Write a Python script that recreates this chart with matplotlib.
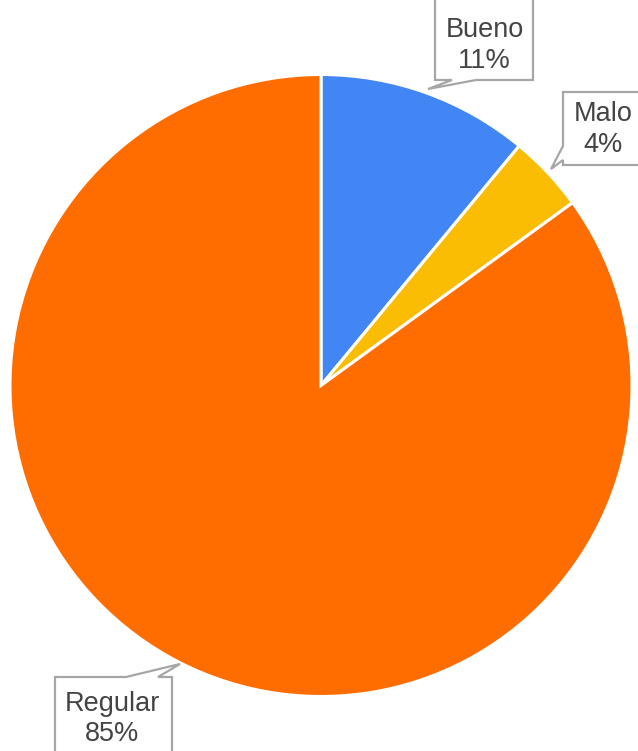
import matplotlib
matplotlib.use("Agg")
import matplotlib.pyplot as plt
from matplotlib.patches import Polygon

labels = ["Bueno", "Malo", "Regular"]
shares = [11, 4, 85]
colors = ["#4285F4", "#FBBC04", "#FF6D01"]

W, H = 638, 751
fig = plt.figure(figsize=(W / 100, H / 100), dpi=100)
ax = fig.add_axes([0, 0, 1, 1])

cx, cy, r = 321, 385.5, 311
# y axis is inverted, so counterclock=True in data space is clockwise on screen
ax.pie(shares, colors=colors, startangle=-90, counterclock=True,
       center=(cx, cy), radius=r, frame=True,
       wedgeprops=dict(edgecolor="white", linewidth=2.2))
ax.set_xlim(0, W)
ax.set_ylim(H, 0)
ax.set_aspect("equal")
ax.axis("off")

# callout boxes: outline polygons with a pointer tail
callouts = [
    [(435, -5), (533, -5), (533, 80), (476, 80), (428, 89), (452, 80), (435, 80)],
    [(563, 92), (645, 92), (645, 165), (563, 165), (563, 160), (551, 169), (563, 146)],
    [(55, 677), (126, 677), (180, 664), (158, 677), (172, 677), (172, 760), (55, 760)],
]
for pts in callouts:
    ax.add_patch(Polygon(pts, closed=True, facecolor="white", edgecolor="#a6a6a6",
                         linewidth=1.6, zorder=5))

texts = [(484.5, 45.5), (603, 129.5), (112.5, 719)]
for (tx, ty), lab, s in zip(texts, labels, shares):
    ax.text(tx, ty, f"{lab}\n{s}%", ha="center", va="center", fontsize=19.5,
            family="Liberation Sans", color="#444444", linespacing=1.22, zorder=6)

fig.savefig("out.png", dpi=100)
